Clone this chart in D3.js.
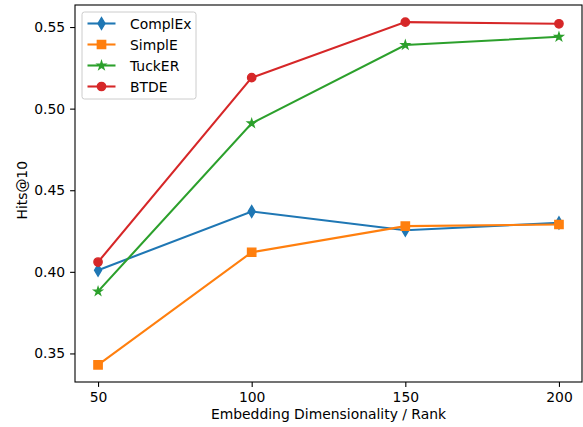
<!DOCTYPE html>
<html>
<head>
<meta charset="utf-8">
<script src="https://cdn.jsdelivr.net/npm/d3@7"></script>
<style>
  body { margin: 0; background: #fff; }
  text { font-family: "DejaVu Sans", sans-serif; }
</style>
</head>
<body>
<div id="chart-area"></div>
<script>
// data
var dims = [50, 100, 150, 200];
var complex = [0.401, 0.437, 0.4255, 0.430];
var simple = [0.343, 0.412, 0.428, 0.429];
var tucker = [0.388, 0.491, 0.539, 0.544];
var btde = [0.406, 0.519, 0.553, 0.552];
var yTicks = [0.35, 0.40, 0.45, 0.50, 0.55];

var series = [
    { name: 'ComplEx', values: complex, color: '#1f77b4', marker: 'diamond' },
    { name: 'SimplE', values: simple, color: '#ff7f0e', marker: 'square' },
    { name: 'TuckER', values: tucker, color: '#2ca02c', marker: 'star' },
    { name: 'BTDE', values: btde, color: '#d62728', marker: 'circle' }
];

var margins = { top: 5, bottom: 45, left: 75, right: 1 };
var W = 583, H = 427;
var width = W - margins.left - margins.right;
var height = H - margins.top - margins.bottom;
var fs = '13.9px';

var svg = d3.select('#chart-area')
    .append('svg')
    .attr('width', W)
    .attr('height', H);

var g = svg.append('g')
    .attr('transform', `translate(${margins.left}, ${margins.top})`);

// matplotlib-style 5% padding
var xPad = (200 - 50) * 0.05;
var x = d3.scaleLinear()
    .domain([50 - xPad, 200 + xPad])
    .range([0, width]);

var all = complex.concat(simple, tucker, btde);
var yMin = d3.min(all), yMax = d3.max(all);
var yPad = (yMax - yMin) * 0.05;
var y = d3.scaleLinear()
    .domain([yMin - yPad, yMax + yPad])
    .range([height, 0]);

var xAxisCall = d3.axisBottom(x).tickValues(dims).tickSize(4.9).tickPadding(4.9).tickFormat(d3.format('d'));
var yAxisCall = d3.axisLeft(y).tickValues(yTicks).tickSize(4.9).tickPadding(4.9).tickFormat(d3.format('.2f'));

var xg = g.append('g')
    .attr('class', 'x-axis')
    .attr('transform', `translate(0, ${height})`)
    .call(xAxisCall);
var yg = g.append('g')
    .attr('class', 'y-axis')
    .call(yAxisCall);

[xg, yg].forEach(a => {
    a.select('.domain').remove();
    a.selectAll('line').attr('stroke', '#000').attr('stroke-width', 1.1);
    a.selectAll('text').attr('font-size', fs).attr('fill', '#000')
        .style('font-family', '"DejaVu Sans", sans-serif');
});

g.append('rect')
    .attr('x', 0).attr('y', 0)
    .attr('width', width).attr('height', height)
    .attr('fill', 'none')
    .attr('stroke', '#000')
    .attr('stroke-width', 1.1);

g.append('text')
    .attr('x', width / 2)
    .attr('y', height + 37)
    .attr('font-size', fs)
    .attr('text-anchor', 'middle')
    .text('Embedding Dimensionality / Rank');

g.append('text')
    .attr('transform', 'rotate(-90)')
    .attr('x', -y(0.45))
    .attr('y', -48)
    .attr('font-size', fs)
    .attr('text-anchor', 'middle')
    .text('Hits@10');

var symbols = {
    square: d3.symbol().type(d3.symbolSquare).size(69),
    star: d3.symbol().type(d3.symbolStar).size(19.5),
    circle: d3.symbol().type(d3.symbolCircle).size(54.5)
};

function drawMarker(sel, s) {
    var p = sel.append('path');
    if (s.marker === 'diamond') {
        // thin diamond
        p.attr('d', 'M0,-5.9 L3.5,0 L0,5.9 L-3.5,0 Z');
    } else {
        p.attr('d', symbols[s.marker]());
    }
    p.attr('fill', s.color)
        .attr('stroke', s.color)
        .attr('stroke-width', 1.39)
        .attr('stroke-linejoin', 'miter');
}

var line = d3.line()
    .x((d, i) => x(dims[i]))
    .y(d => y(d));

series.forEach(s => {
    g.append('path')
        .datum(s.values)
        .attr('fill', 'none')
        .attr('stroke', s.color)
        .attr('stroke-width', 2.08)
        .attr('d', line);
    s.values.forEach((v, i) => {
        var m = g.append('g').attr('transform', `translate(${x(dims[i])}, ${y(v)})`);
        drawMarker(m, s);
    });
});

// legend
var lg = svg.append('g').attr('transform', 'translate(82, 12)');
lg.append('rect')
    .attr('width', 114).attr('height', 87)
    .attr('rx', 2.5)
    .attr('fill', '#fff').attr('fill-opacity', 0.8)
    .attr('stroke', '#ccc').attr('stroke-width', 1);

series.forEach((s, i) => {
    var row = lg.append('g').attr('transform', `translate(0, ${11.5 + i * 21})`);
    row.append('line')
        .attr('x1', 5.5).attr('x2', 33.5)
        .attr('stroke', s.color).attr('stroke-width', 2.08);
    var m = row.append('g').attr('transform', 'translate(19.5, 0)');
    drawMarker(m, s);
    row.append('text')
        .attr('x', 48)
        .attr('y', 5)
        .attr('font-size', fs)
        .text(s.name);
});
</script>
</body>
</html>
